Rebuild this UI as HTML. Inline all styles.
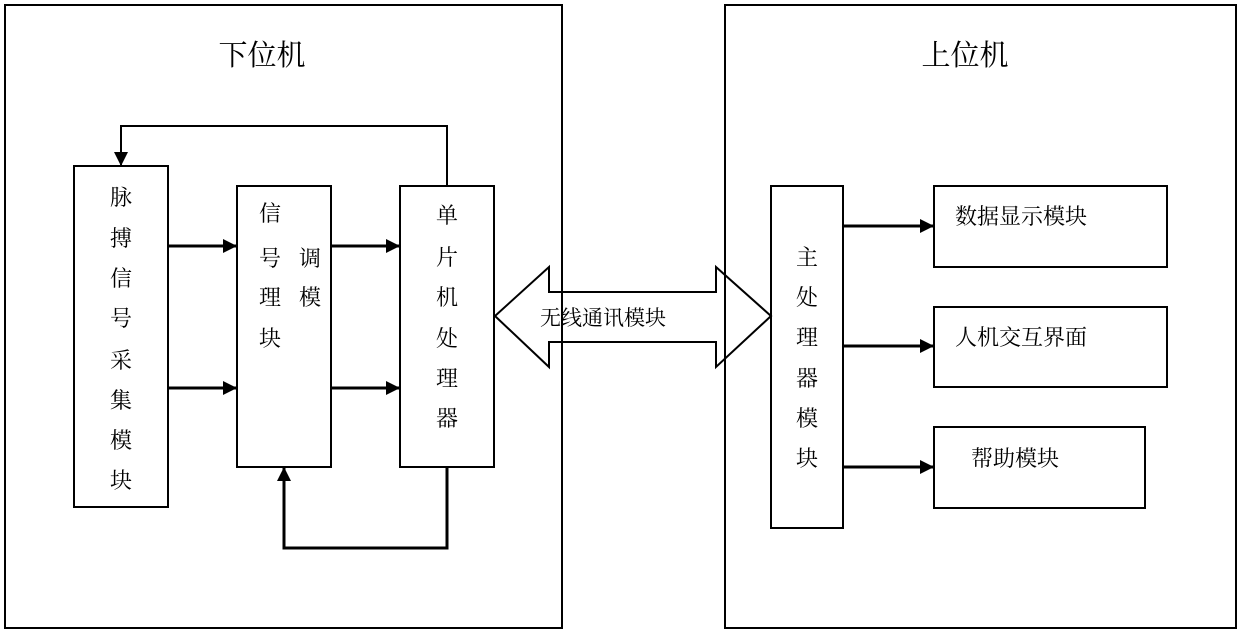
<!DOCTYPE html>
<html><head><meta charset="utf-8"><style>
body{margin:0;background:#fff;}
svg text{font-family:"Liberation Serif","Noto Serif CJK SC","Noto Sans CJK SC",serif;fill:#000;}
</style></head><body>
<svg width="1240" height="631" viewBox="0 0 1240 631" xmlns="http://www.w3.org/2000/svg">
<defs><marker id="a" markerWidth="10" markerHeight="10" refX="9" refY="5" orient="auto" markerUnits="userSpaceOnUse"><path d="M0,0 L10,5 L0,10 z" fill="#000"/></marker>
<marker id="b" markerWidth="14" markerHeight="14" refX="13" refY="7" orient="auto" markerUnits="userSpaceOnUse"><path d="M0,0 L14,7 L0,14 z" fill="#000"/></marker></defs>
<g fill="none" stroke="#000" stroke-width="2">
<rect x="5" y="5" width="557" height="623"/>
<rect x="725" y="5" width="511" height="623"/>
<rect x="74" y="166" width="94" height="341"/>
<rect x="237" y="186" width="94" height="281"/>
<rect x="400" y="186" width="94" height="281"/>
<rect x="771" y="186" width="72" height="342"/>
<rect x="934" y="186" width="233" height="81"/>
<rect x="934" y="307" width="233" height="80"/>
<rect x="934" y="427" width="211" height="81"/>
<path d="M495,316 L549,267 L549,292 L716,292 L716,267 L771,316 L716,367 L716,342 L549,342 L549,367 Z" fill="#fff"/>
</g>
<line x1="562" y1="5" x2="562" y2="628" stroke="#000" stroke-width="2"/>
<line x1="725" y1="5" x2="725" y2="628" stroke="#000" stroke-width="2"/>
<g stroke="#000" stroke-width="3" fill="none">
<line x1="168" y1="246" x2="236" y2="246" marker-end="url(#b)"/>
<line x1="168" y1="388" x2="236" y2="388" marker-end="url(#b)"/>
<line x1="331" y1="246" x2="399" y2="246" marker-end="url(#b)"/>
<line x1="331" y1="388" x2="399" y2="388" marker-end="url(#b)"/>
<line x1="843" y1="226" x2="933" y2="226" marker-end="url(#b)"/>
<line x1="843" y1="346" x2="933" y2="346" marker-end="url(#b)"/>
<line x1="843" y1="467" x2="933" y2="467" marker-end="url(#b)"/>
<polyline points="447,186 447,126 121,126 121,165" marker-end="url(#b)" stroke-width="2"/>
<polyline points="447,467 447,548 284,548 284,468" marker-end="url(#b)"/>
</g>
<g font-size="29"><text x="262" y="65" text-anchor="middle">下位机</text><text x="965" y="65" text-anchor="middle">上位机</text></g>
<g font-size="22" text-anchor="middle">
<text x="121" y="205">脉</text><text x="121" y="246">搏</text><text x="121" y="286">信</text><text x="121" y="326">号</text><text x="121" y="368">采</text><text x="121" y="408">集</text><text x="121" y="448">模</text><text x="121" y="488">块</text>
<text x="270" y="221">信</text><text x="270" y="266">号</text><text x="310" y="266">调</text><text x="270" y="305">理</text><text x="310" y="305">模</text><text x="270" y="346">块</text>
<text x="447" y="223">单</text><text x="447" y="265">片</text><text x="447" y="305">机</text><text x="447" y="346">处</text><text x="447" y="386">理</text><text x="447" y="426">器</text>
<text x="807" y="265">主</text><text x="807" y="305">处</text><text x="807" y="345">理</text><text x="807" y="386">器</text><text x="807" y="426">模</text><text x="807" y="466">块</text>
</g>
<g font-size="22">
<text x="955" y="224">数据显示模块</text>
<text x="955" y="345">人机交互界面</text>
<text x="971" y="466">帮助模块</text>
<text x="540" y="325" font-size="21">无线通讯模块</text>
</g>
</svg>
</body></html>
